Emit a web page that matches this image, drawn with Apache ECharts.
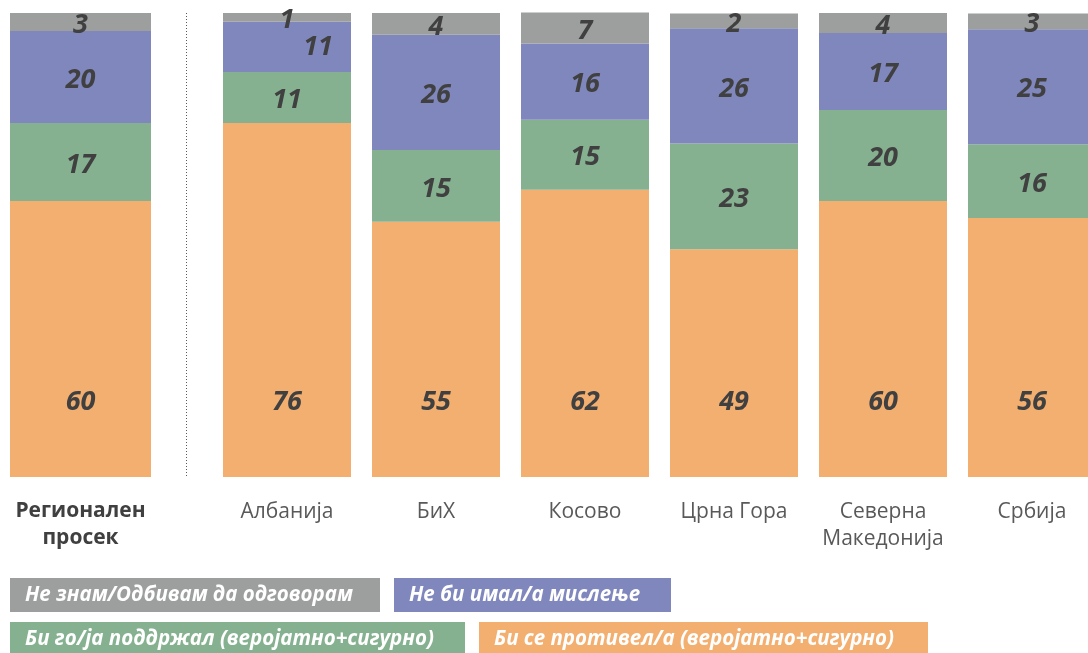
<!DOCTYPE html>
<html>
<head>
<meta charset="utf-8">
<script src="https://cdn.jsdelivr.net/npm/echarts@6/dist/echarts.min.js"></script>
<style>
  html, body { margin: 0; padding: 0; background: #fff; }
  #chart { width: 1088px; height: 653px; }
</style>
</head>
<body>
<div id="chart"></div>
<script>
// regional average (left block)
const regionCategories = ['Регионален\nпросек']
const regionOppose = [59.5]
const regionSupport = [16.8]
const regionNoOpinion = [19.8]
const regionDontKnow = [3.9]
// printed labels (rounded figures from the source)
const regionOpposeLabels = [60]
const regionSupportLabels = [17]
const regionNoOpinionLabels = [20]
const regionDontKnowLabels = [3]

// countries
const countryCategories = ['Албанија', 'БиХ', 'Косово', 'Црна Гора', 'Северна\nМакедонија', 'Србија']
const countryOppose = [76.3, 55.0, 61.9, 49.1, 59.5, 55.8]
const countrySupport = [11.0, 15.5, 15.1, 22.8, 19.6, 15.9]
const countryNoOpinion = [10.8, 24.8, 16.4, 24.8, 16.6, 24.8]
const countryDontKnow = [1.9, 4.7, 6.7, 3.2, 4.3, 3.4]
const countryOpposeLabels = [76, 55, 62, 49, 60, 56]
const countrySupportLabels = [11, 15, 15, 23, 20, 16]
const countryNoOpinionLabels = [11, 26, 16, 26, 17, 25]
const countryDontKnowLabels = [1, 4, 7, 2, 4, 3]

const seriesNames = [
  'Би се противел/а (веројатно+сигурно)',
  'Би го/ја поддржал (веројатно+сигурно)',
  'Не би имал/а мислење',
  'Не знам/Одбивам да одговорам'
]
const colors = ['#F3AF70', '#86B190', '#7F87BD', '#9C9F9D']

const chart = echarts.init(document.getElementById('chart'))

const labelStyle = {
  show: true,
  position: 'inside',
  offset: [0, 3],
  color: '#404040',
  fontFamily: 'Open Sans',
  fontWeight: 'bold',
  fontStyle: 'italic',
  fontSize: 27
}

function buildSeries(groups, labels, axisIndex, barWidth) {
  return groups.map((g, k) => {
    const label = Object.assign({}, labelStyle, {
      formatter: p => String(labels[k][p.dataIndex])
    })
    // the big orange figures sit on one common line near the bottom
    if (k === 0) {
      label.position = 'insideBottom'
      label.distance = 61
      label.offset = [0, 0]
    }
    return {
      name: seriesNames[k],
      type: 'bar',
      stack: 'total' + axisIndex,
      xAxisIndex: axisIndex,
      yAxisIndex: axisIndex,
      barWidth: barWidth,
      clip: false,
      itemStyle: { color: colors[k] },
      label: label,
      emphasis: { disabled: true },
      data: g.map((v, i) => {
        const item = { value: v }
        // Albania: thin gray segment, purple label pushed aside
        if (axisIndex === 1 && i === 0 && k === 2) item.label = { offset: [31, 0] }
        if (axisIndex === 1 && i === 0 && k === 3) item.label = { offset: [0, 3] }
        return item
      })
    }
  })
}

// legend entries are drawn as coloured boxes with white text
function legendBox(idx, left, top, width) {
  return {
    left: left - 5,
    top: top,
    padding: 0,
    icon: 'none',
    itemWidth: 0,
    itemHeight: 0,
    selectedMode: false,
    data: [{
      name: seriesNames[idx],
      textStyle: {
        color: '#fff',
        fontFamily: 'Open Sans',
        fontWeight: 'bold',
        fontStyle: 'italic',
        fontSize: 20.5,
        lineHeight: 22,
        backgroundColor: colors[idx],
        padding: [6, 15, 6, 15],
        width: width - 30
      }
    }]
  }
}

const axisLabelBase = {
  color: '#595959',
  fontFamily: 'Open Sans',
  fontSize: 21,
  lineHeight: 27,
  margin: 22,
  interval: 0
}

chart.setOption({
  animation: false,
  grid: [
    { left: 10, top: 13, width: 141, height: 464 },
    { left: 287, top: 13, right: 56, height: 464 }
  ],
  xAxis: [
    {
      type: 'category',
      gridIndex: 0,
      data: regionCategories,
      axisLine: { show: false },
      axisTick: { show: false },
      axisLabel: Object.assign({}, axisLabelBase, { fontWeight: 'bold', color: '#404040', margin: 21 })
    },
    {
      type: 'category',
      gridIndex: 1,
      boundaryGap: false,
      data: countryCategories,
      axisLine: { show: false },
      axisTick: { show: false },
      axisLabel: axisLabelBase
    }
  ],
  yAxis: [
    { type: 'value', gridIndex: 0, min: 0, max: 100, show: false },
    { type: 'value', gridIndex: 1, min: 0, max: 100, show: false }
  ],
  legend: [
    legendBox(3, 10, 578, 370),
    legendBox(2, 394, 578, 277),
    legendBox(1, 10, 622, 455),
    legendBox(0, 479, 622, 449)
  ],
  graphic: [
    {
      type: 'line',
      shape: { x1: 186.5, y1: 13, x2: 186.5, y2: 477 },
      style: { stroke: '#595959', lineWidth: 1, lineDash: [1, 2] }
    }
  ],
  series: [
    ...buildSeries(
      [regionOppose, regionSupport, regionNoOpinion, regionDontKnow],
      [regionOpposeLabels, regionSupportLabels, regionNoOpinionLabels, regionDontKnowLabels],
      0, 141),
    ...buildSeries(
      [countryOppose, countrySupport, countryNoOpinion, countryDontKnow],
      [countryOpposeLabels, countrySupportLabels, countryNoOpinionLabels, countryDontKnowLabels],
      1, 128)
  ]
})
</script>
</body>
</html>
